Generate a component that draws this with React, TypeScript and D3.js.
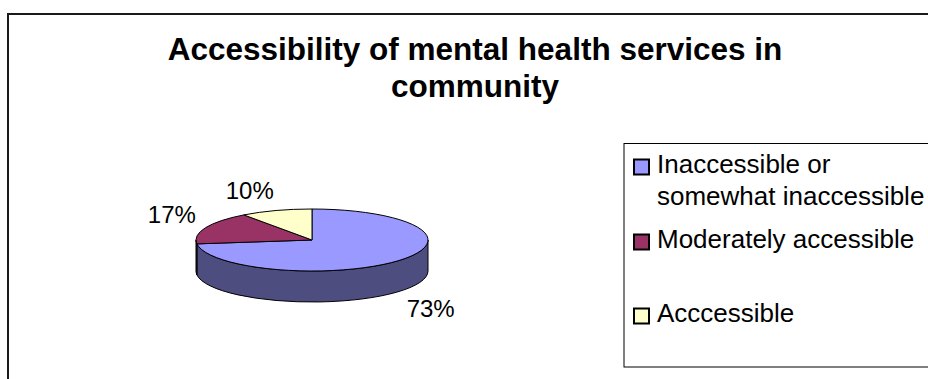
import React from "react";
import * as d3 from "d3";

const categories = ["Inaccessible or somewhat inaccessible", "Moderately accessible", "Acccessible"];
const legendLines = [["Inaccessible or", "somewhat inaccessible"], ["Moderately accessible"], ["Acccessible"]];
const values = [73, 17, 10];
const topColors = ["#9999FF", "#993366", "#FFFFCC"];
const sideColors = ["#4D4D80", "#4D1A33", "#808066"];
const titleLines = ["Accessibility of mental health services in", "community"];

const W = 928, H = 379;
const cx = 312, cy = 240, rx = 116, ry = 31, depth = 31;
const FONT = "'Liberation Sans', Arial, sans-serif";
const LABEL_SIZE = 24;

const pt = (a: number, dy = 0): [number, number] => [cx + rx * Math.sin(a), cy - ry * Math.cos(a) + dy];

export default function App() {
  const arcs = d3.pie<number>().sort(null).startAngle(0).endAngle(2 * Math.PI)(values);
  const total = d3.sum(values);

  const sides: React.ReactNode[] = [];
  arcs.forEach((a, i) => {
    const b0 = Math.max(a.startAngle, Math.PI / 2);
    const b1 = Math.min(a.endAngle, (3 * Math.PI) / 2);
    if (b1 <= b0) return;
    const [x0, y0] = pt(b0);
    const [x1, y1] = pt(b1);
    const d = `M${x0},${y0} A${rx},${ry} 0 0 1 ${x1},${y1} L${x1},${y1 + depth} A${rx},${ry} 0 0 0 ${x0},${y0 + depth} Z`;
    sides.push(<path key={"s" + i} d={d} fill={sideColors[i]} stroke="#000" strokeWidth={1} strokeLinejoin="round" />);
  });

  const tops = arcs.map((a, i) => {
    const [x0, y0] = pt(a.startAngle);
    const [x1, y1] = pt(a.endAngle);
    const large = a.endAngle - a.startAngle > Math.PI ? 1 : 0;
    const d = `M${cx},${cy} L${x0},${y0} A${rx},${ry} 0 ${large} 1 ${x1},${y1} Z`;
    return <path key={"t" + i} d={d} fill={topColors[i]} stroke="#000" strokeWidth={1} strokeLinejoin="round" />;
  });

  const labels = arcs.map((a, i) => {
    const mid = (a.startAngle + a.endAngle) / 2;
    const s = Math.sin(mid), c = Math.cos(mid);
    const [px, py0] = pt(mid);
    const py = py0 + (c < 0 ? depth : 0);
    const txt = Math.round((values[i] / total) * 100) + "%";
    const w = LABEL_SIZE * 0.556 * 3.4;
    const h = LABEL_SIZE * 0.75;
    const m = 12;
    const lx = px + s * m + Math.sign(s) * w / 2;
    const ly = py - c * m - Math.sign(c) * h / 2;
    return (
      <text key={"l" + i} x={lx} y={ly + h / 2} textAnchor="middle" fontSize={LABEL_SIZE} fontFamily={FONT} fill="#000">
        {txt}
      </text>
    );
  });

  const legendY = [173, 248, 322];

  return (
    <svg width={W} height={H} style={{ position: "absolute", left: 0, top: 0, background: "#fff" }}>
      <rect x={0} y={0} width={W} height={H} fill="#fff" />
      <rect x={8} y={14} width={960} height={420} fill="#fff" stroke="#1a1a1a" strokeWidth={2} />
      {titleLines.map((t, i) => (
        <text key={"title" + i} x={475} y={60 + i * 37} textAnchor="middle" fontSize={31.5} fontWeight="bold" fontFamily={FONT} fill="#000">
          {t}
        </text>
      ))}
      {sides}
      {tops}
      {labels}
      <rect x={624} y={143.5} width={340} height={223.5} fill="#fff" stroke="#000" strokeWidth={1} />
      {categories.map((c, i) => (
        <g key={"lg" + i}>
          <rect x={634} y={legendY[i] - 13.5} width={15} height={15} fill={topColors[i]} stroke="#000" strokeWidth={2} />
          {legendLines[i].map((ln, j) => (
            <text key={j} x={657} y={legendY[i] + j * 32} fontSize={26} fontFamily={FONT} fill="#000">
              {ln}
            </text>
          ))}
        </g>
      ))}
    </svg>
  );
}
